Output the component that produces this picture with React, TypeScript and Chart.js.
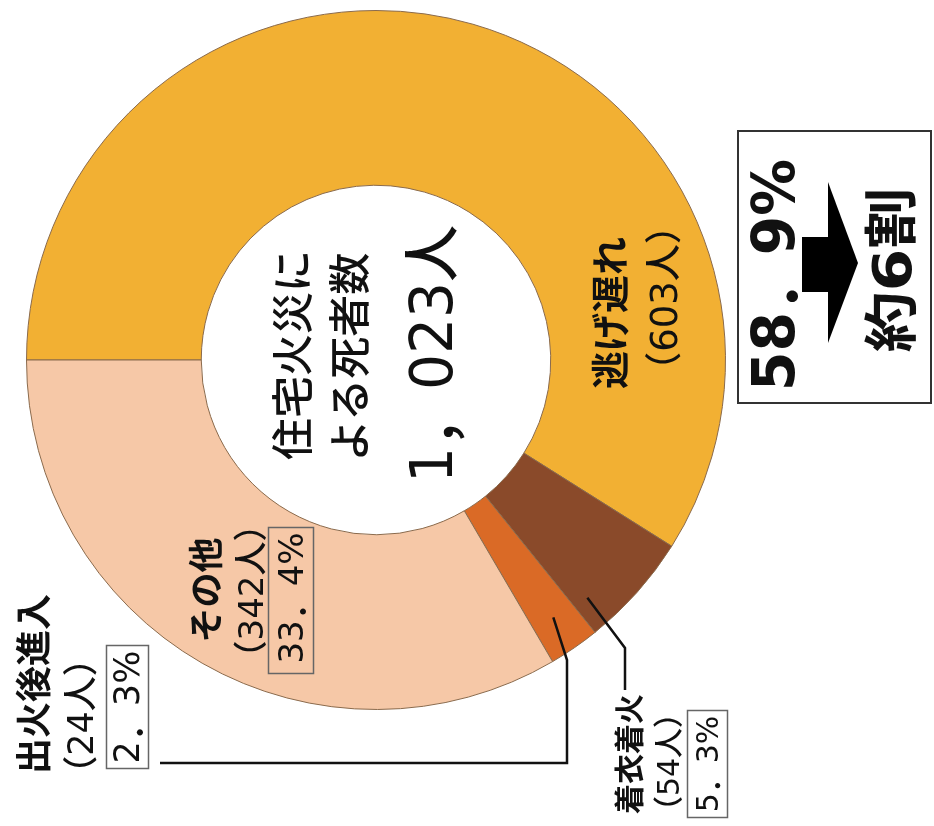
import React, { useEffect, useRef } from "react";
import { Chart, registerables } from "chart.js";

Chart.register(...registerables);

// ---- data ----
const categories = ["逃げ遅れ", "着衣着火", "出火後進入", "その他"];
const deaths = [603, 54, 24, 342];
const shares = ["58．9%", "5．3%", "2．3%", "33．4%"];
const sliceColors = ["#F2B033", "#8A4A2A", "#DA6A26", "#F6C8A7"];
const centerTitle = ["住宅火災に", "よる死者数"];
const summaryFrom = "58．9%";
const summaryTo = "約6割";

const total = deaths.reduce((a, b) => a + b, 0);
const totalText = `${Math.floor(total / 1000)}，${String(total % 1000).padStart(3, "0")}人`;

const W = 934;
const H = 826;
const CJK = "'Noto Sans CJK JP', sans-serif";

type T = { text: string; x: number; y: number; size: number; weight?: number; len?: number };

const texts: T[] = [
  { text: centerTitle[0], x: 293, y: 355, size: 42, weight: 500 },
  { text: centerTitle[1], x: 350, y: 357, size: 42, weight: 500 },
  { text: totalText, x: 432, y: 354, size: 58, weight: 500, len: 258 },
  { text: categories[0], x: 611, y: 313, size: 38, weight: 700 },
  { text: `（${deaths[0]}人）`, x: 664, y: 298, size: 37, weight: 500 },
  { text: categories[3], x: 207, y: 590, size: 35, weight: 700 },
  { text: `（${deaths[3]}人）`, x: 251, y: 591, size: 34, weight: 500 },
  { text: shares[3], x: 291, y: 598, size: 34, weight: 500 },
  { text: categories[2], x: 34, y: 684, size: 36, weight: 700 },
  { text: `（${deaths[2]}人）`, x: 81, y: 716, size: 35, weight: 500 },
  { text: shares[2], x: 127, y: 707, size: 35, weight: 500 },
  { text: categories[1], x: 629, y: 754, size: 30, weight: 700 },
  { text: `（${deaths[1]}人）`, x: 668, y: 762, size: 30, weight: 500 },
  { text: shares[1], x: 707, y: 764, size: 30, weight: 500 },
  { text: summaryFrom, x: 774, y: 275, size: 58, weight: 700, len: 232 },
  { text: summaryTo, x: 892, y: 270, size: 54, weight: 700, len: 165 },
];

const decor = {
  id: "decor",
  afterDraw(chart: any) {
    const ctx = chart.ctx as CanvasRenderingContext2D;
    const arcs = chart.getDatasetMeta(0).data as any[];
    const pt = (arc: any, frac: number, rf: number) => {
      const a = arc.startAngle + frac * (arc.endAngle - arc.startAngle);
      const r = arc.outerRadius * rf;
      return [arc.x + r * Math.cos(a), arc.y + r * Math.sin(a)];
    };
    ctx.save();
    // leader lines
    ctx.strokeStyle = "#111";
    ctx.lineWidth = 2.5;
    ctx.lineJoin = "miter";
    const p2 = pt(arcs[2], 0.5, 0.894);
    ctx.beginPath();
    ctx.moveTo(p2[0], p2[1]);
    ctx.lineTo(567, 660);
    ctx.lineTo(567, 763);
    ctx.lineTo(160, 763);
    ctx.stroke();
    const p1 = pt(arcs[1], 0.85, 0.91);
    ctx.beginPath();
    ctx.moveTo(p1[0], p1[1]);
    ctx.lineTo(625, 648);
    ctx.lineTo(625, 690);
    ctx.stroke();
    // percentage boxes
    ctx.strokeStyle = "#666";
    ctx.lineWidth = 1.5;
    ctx.strokeRect(268.5, 527.5, 45, 146);
    ctx.strokeRect(106.5, 645.5, 42, 123);
    ctx.strokeRect(687.5, 710.5, 40, 107);
    // summary box
    ctx.strokeStyle = "#333";
    ctx.lineWidth = 2;
    ctx.strokeRect(738, 131, 193, 272);
    // arrow
    ctx.fillStyle = "#000";
    ctx.fillRect(802, 237, 27, 55);
    ctx.beginPath();
    ctx.moveTo(828, 182);
    ctx.lineTo(858, 263);
    ctx.lineTo(828, 343);
    ctx.closePath();
    ctx.fill();
    ctx.restore();
  },
};

function renderParts(s: string) {
  // full-width punctuation drawn with the Japanese font
  return s.split(/(．|，)/).map((p, i) =>
    p === "．" || p === "，" ? (
      <tspan key={i} fontFamily={CJK}>
        {p}
      </tspan>
    ) : (
      <React.Fragment key={i}>{p}</React.Fragment>
    )
  );
}

export default function App() {
  const ref = useRef<HTMLCanvasElement>(null);
  useEffect(() => {
    if (!ref.current) return;
    const chart = new Chart(ref.current, {
      type: "doughnut",
      data: {
        labels: categories,
        datasets: [
          {
            data: deaths,
            backgroundColor: sliceColors,
            borderColor: "#8a6a4c",
            borderWidth: 1,
          },
        ],
      },
      options: {
        animation: false,
        responsive: false,
        rotation: -90,
        cutout: "50%",
        layout: { padding: { left: 26, top: 10, right: 208, bottom: 116 } },
        plugins: { legend: { display: false }, tooltip: { enabled: false } },
      },
      plugins: [decor],
    });
    return () => chart.destroy();
  }, []);

  return (
    <div lang="ja" style={{ position: "absolute", left: 0, top: 0, width: W, height: H, background: "#fff" }}>
      <canvas ref={ref} width={W} height={H} style={{ position: "absolute", left: 0, top: 0 }} />
      <svg
        width={W}
        height={H}
        style={{ position: "absolute", left: 0, top: 0, pointerEvents: "none" }}
        fontFamily="'DejaVu Sans', 'Noto Sans CJK JP', sans-serif"
      >
        {texts.map((t, i) => (
          <text
            key={i}
            x={t.x}
            y={t.y}
            transform={`rotate(-90 ${t.x} ${t.y})`}
            textAnchor="middle"
            dominantBaseline="central"
            fontSize={t.size}
            fontWeight={t.weight ?? 400}
            fill="#111"
            {...(t.len ? { textLength: t.len, lengthAdjust: "spacingAndGlyphs" } : {})}
          >
            {renderParts(t.text)}
          </text>
        ))}
      </svg>
    </div>
  );
}
